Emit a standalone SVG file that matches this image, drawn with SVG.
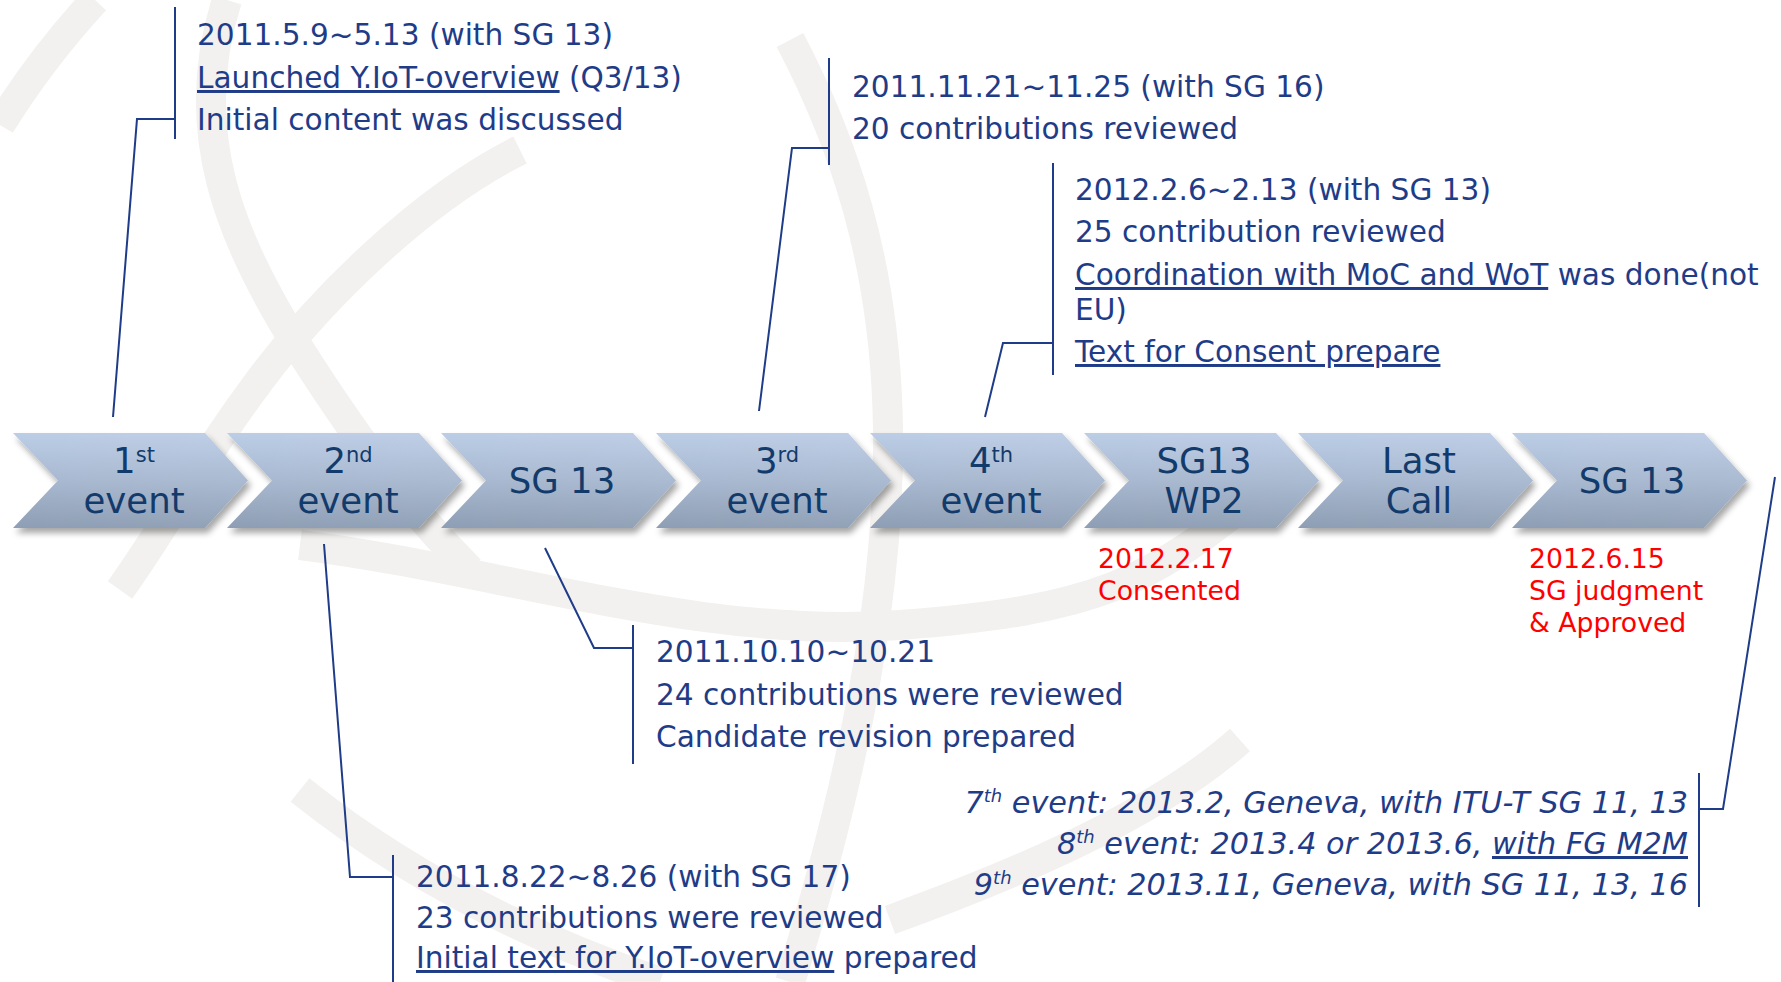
<svg xmlns="http://www.w3.org/2000/svg" width="1781" height="982" viewBox="0 0 1781 982">
<defs>
<linearGradient id="gv" x1="0" y1="0" x2="0" y2="1">
<stop offset="0" stop-color="#bccde6"/>
<stop offset="0.5" stop-color="#a7b8d0"/>
<stop offset="1" stop-color="#8e9eb4"/>
</linearGradient>
<linearGradient id="gh" gradientUnits="userSpaceOnUse" x1="0" y1="0" x2="1760" y2="0">
<stop offset="0" stop-color="#ffffff" stop-opacity="0"/>
<stop offset="1" stop-color="#ffffff" stop-opacity="0.3"/>
</linearGradient>
<filter id="sh" x="-10%" y="-20%" width="130%" height="150%">
<feDropShadow dx="3" dy="5" stdDeviation="3" flood-color="#000" flood-opacity="0.35"/>
</filter>
<polygon id="chev" points="0,433 192,433 235,480.5 192,528 0,528 45,480.5"/>
</defs>
<style>
.wm{fill:none;stroke:#f2f1ef;stroke-width:30;stroke-linecap:butt}
.ct{font-family:"DejaVu Sans","Liberation Sans",sans-serif;font-size:35.5px;fill:#123a6b;text-anchor:middle}
.sup{font-size:21px}
.at{font-family:"DejaVu Sans","Liberation Sans",sans-serif;font-size:29.6px;fill:#1f3c88}
.it{font-style:italic;text-anchor:end;font-size:30.3px}
.isup{font-size:18px}
.rt{font-family:"DejaVu Sans","Liberation Sans",sans-serif;font-size:26.7px;fill:#ff0000}
.u{text-decoration:underline}
.cn{fill:none;stroke:#1f3c88;stroke-width:2}
</style>
<rect width="1781" height="982" fill="#ffffff"/>
<g id="watermark">
<path class="wm" d="M 95 0 Q 40 60 0 125"/>
<path class="wm" d="M 227 0 C 185 130 230 240 300 350 S 420 520 470 570"/>
<path class="wm" d="M 520 150 C 420 200 320 300 260 380 S 170 520 120 590"/>
<path class="wm" d="M 300 545 C 500 570 700 640 900 625 S 1150 580 1250 500"/>
<path class="wm" d="M 790 40 C 900 250 940 500 790 982"/>
<path class="wm" d="M 1240 740 C 1150 820 1000 880 890 920"/>
<path class="wm" d="M 300 790 Q 450 910 660 982"/>
</g>
<g id="connectors">
<polyline class="cn" points="113,417 137,119 175,119"/>
<line class="cn" x1="175" y1="7" x2="175" y2="139"/>
<polyline class="cn" points="324,544 350,877 393,877"/>
<line class="cn" x1="393" y1="855" x2="393" y2="982"/>
<polyline class="cn" points="545,548 594,648 633,648"/>
<line class="cn" x1="633" y1="625" x2="633" y2="764"/>
<polyline class="cn" points="759,411 792,148 829,148"/>
<line class="cn" x1="829" y1="58" x2="829" y2="165"/>
<polyline class="cn" points="985,417 1003,343 1053,343"/>
<line class="cn" x1="1053" y1="163" x2="1053" y2="375"/>
<polyline class="cn" points="1775,477 1723,809 1699,809"/>
<line class="cn" x1="1699" y1="773" x2="1699" y2="907"/>
</g>
<g id="step1" transform="translate(13,0)"><use href="#chev" fill="url(#gv)" filter="url(#sh)"/></g>
<g id="step2" transform="translate(227,0)"><use href="#chev" fill="url(#gv)" filter="url(#sh)"/></g>
<g id="step3" transform="translate(441,0)"><use href="#chev" fill="url(#gv)" filter="url(#sh)"/></g>
<g id="step4" transform="translate(656,0)"><use href="#chev" fill="url(#gv)" filter="url(#sh)"/></g>
<g id="step5" transform="translate(870,0)"><use href="#chev" fill="url(#gv)" filter="url(#sh)"/></g>
<g id="step6" transform="translate(1084,0)"><use href="#chev" fill="url(#gv)" filter="url(#sh)"/></g>
<g id="step7" transform="translate(1298,0)"><use href="#chev" fill="url(#gv)" filter="url(#sh)"/></g>
<g id="step8" transform="translate(1512,0)"><use href="#chev" fill="url(#gv)" filter="url(#sh)"/></g>
<g id="highlight">
<use href="#chev" x="13" fill="url(#gh)"/>
<use href="#chev" x="227" fill="url(#gh)"/>
<use href="#chev" x="441" fill="url(#gh)"/>
<use href="#chev" x="656" fill="url(#gh)"/>
<use href="#chev" x="870" fill="url(#gh)"/>
<use href="#chev" x="1084" fill="url(#gh)"/>
<use href="#chev" x="1298" fill="url(#gh)"/>
<use href="#chev" x="1512" fill="url(#gh)"/>
</g>
<g id="labels">
<text class="ct" x="134" y="473">1<tspan class="sup" dy="-11">st</tspan></text>
<text class="ct" x="134" y="513">event</text>
<text class="ct" x="348" y="473">2<tspan class="sup" dy="-11">nd</tspan></text>
<text class="ct" x="348" y="513">event</text>
<text class="ct" x="562" y="493">SG 13</text>
<text class="ct" x="777" y="473">3<tspan class="sup" dy="-11">rd</tspan></text>
<text class="ct" x="777" y="513">event</text>
<text class="ct" x="991" y="473">4<tspan class="sup" dy="-11">th</tspan></text>
<text class="ct" x="991" y="513">event</text>
<text class="ct" x="1204" y="473">SG13</text>
<text class="ct" x="1204" y="513">WP2</text>
<text class="ct" x="1419" y="473">Last</text>
<text class="ct" x="1419" y="513">Call</text>
<text class="ct" x="1632" y="493">SG 13</text>
</g>
<g id="note-wp2">
<text class="rt" x="1098" y="568">2012.2.17</text>
<text class="rt" x="1098" y="600">Consented</text>
</g>
<g id="note-sg13-final">
<text class="rt" x="1529" y="568">2012.6.15</text>
<text class="rt" x="1529" y="600">SG judgment</text>
<text class="rt" x="1529" y="632">&amp; Approved</text>
</g>
<g id="note-event1">
<text class="at" x="197" y="45">2011.5.9~5.13 (with SG 13)</text>
<text class="at" x="197" y="88"><tspan class="u">Launched Y.IoT-overview</tspan> (Q3/13)</text>
<text class="at" x="197" y="130">Initial content was discussed</text>
</g>
<g id="note-event2">
<text class="at" x="416" y="887">2011.8.22~8.26 (with SG 17)</text>
<text class="at" x="416" y="928">23 contributions were reviewed</text>
<text class="at" x="416" y="968"><tspan class="u">Initial text for Y.IoT-overview</tspan> prepared</text>
</g>
<g id="note-sg13">
<text class="at" x="656" y="662">2011.10.10~10.21</text>
<text class="at" x="656" y="705">24 contributions were reviewed</text>
<text class="at" x="656" y="747">Candidate revision prepared</text>
</g>
<g id="note-event3">
<text class="at" x="852" y="97">2011.11.21~11.25 (with SG 16)</text>
<text class="at" x="852" y="139">20 contributions reviewed</text>
</g>
<g id="note-event4">
<text class="at" x="1075" y="200">2012.2.6~2.13 (with SG 13)</text>
<text class="at" x="1075" y="242">25 contribution reviewed</text>
<text class="at" x="1075" y="285"><tspan class="u">Coordination with MoC and WoT</tspan> was done(not</text>
<text class="at" x="1075" y="320">EU)</text>
<text class="at" x="1075" y="362"><tspan class="u">Text for Consent prepare</tspan></text>
</g>
<g id="note-future">
<text class="at it" x="1688" y="813">7<tspan class="isup" dy="-11">th</tspan><tspan dy="11"> event: 2013.2, Geneva, with ITU-T SG 11, 13</tspan></text>
<text class="at it" x="1688" y="854">8<tspan class="isup" dy="-11">th</tspan><tspan dy="11"> event: 2013.4 or 2013.6, </tspan><tspan class="u">with FG M2M</tspan></text>
<text class="at it" x="1688" y="895">9<tspan class="isup" dy="-11">th</tspan><tspan dy="11"> event: 2013.11, Geneva, with SG 11, 13, 16</tspan></text>
</g>
</svg>
